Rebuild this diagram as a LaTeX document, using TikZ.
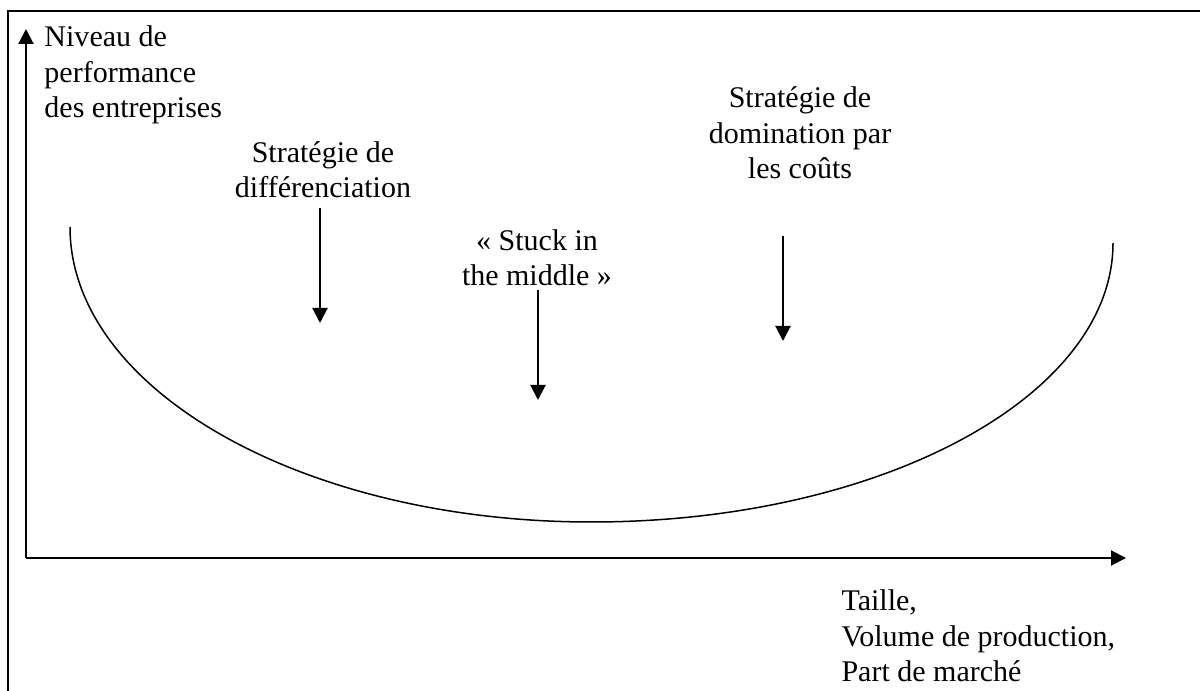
\documentclass[tikz,border=0pt]{standalone}
\usepackage{fontspec}
\setmainfont{Liberation Serif}
\usetikzlibrary{arrows.meta,positioning}

\begin{document}
\begin{tikzpicture}[x=0.4pt, y=0.4pt, >={Triangle[length=6pt,width=6pt]},
  font=\fontsize{12}{14.2}\selectfont,
  frame/.style={line width=1pt},
  axis/.style={line width=0.8pt},
  curve/.style={line width=0.6pt},
  strategy/.style={align=center, anchor=base, inner sep=0pt},
  axis label/.style={align=left, anchor=base west, inner sep=0pt}]

\useasboundingbox (0,0) rectangle (1200,-691);

% cadre
\draw [frame] (8,-691) -- (8,-11) -- (1200,-11);

% axes
\coordinate (origin) at (26,-558);
\coordinate (y-end) at (26,-29);
\coordinate (x-end) at (1126,-558);
\draw [axis,->] (origin) -- (y-end);
\draw [axis,->] (origin) -- (x-end);

% (base = ligne du bas)
\node [axis label] (perf) at (44,-118) {Niveau de\\performance\\des entreprises};
\node [axis label] (size) at (841,-682) {Taille,\\Volume de production,\\Part de march\'e};

% courbe en U
\draw [curve] (70,-227) arc [start angle=180, end angle=270, x radius=521.5, y radius=295]
  arc [start angle=270, end angle=360, x radius=521.5, y radius=279];

\node [strategy] (diff) at (323,-198) {Strat\'egie de\\diff\'erenciation};
\node [strategy] (stuck) at (537,-286) {\guillemotleft{} Stuck in\\the middle \guillemotright};
\node [strategy] (cost) at (800,-179) {Strat\'egie de\\domination par\\les co\^uts};

\foreach \n/\x/\a/\b in {diff/320/208/323, stuck/538/290/400, cost/783/236/341} {
  \coordinate (\n-top) at (\x,-\a);
  \coordinate (\n-tip) at (\x,-\b);
  \draw [axis,->] (\n-top) -- (\n-tip);
}

\end{tikzpicture}
\end{document}
